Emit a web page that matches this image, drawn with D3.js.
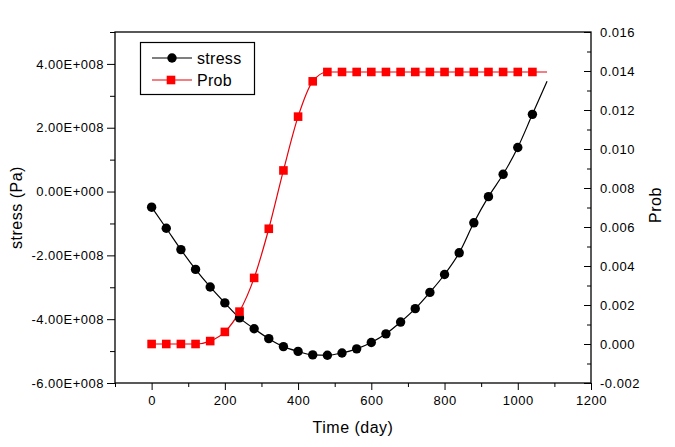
<!DOCTYPE html>
<html>
<head>
<meta charset="utf-8">
<script src="https://cdn.jsdelivr.net/npm/d3@7"></script>
<style>
  html, body { margin: 0; padding: 0; background: #fff; }
  svg { display: block; font-family: "Liberation Sans", Arial, sans-serif; }
  .tick text { letter-spacing: 0.5px; }
</style>
</head>
<body>
<svg id="chart" width="675" height="447"></svg>
<script>
// ---- Data ----
const days = [0, 40, 80, 120, 160, 200, 240, 280, 320, 360, 400, 440, 480, 520,
              560, 600, 640, 680, 720, 760, 800, 840, 880, 920, 960, 1000, 1040, 1080];
const stress = [-0.49e8, -1.15e8, -1.82e8, -2.44e8, -2.99e8, -3.49e8, -3.96e8, -4.30e8,
                -4.61e8, -4.86e8, -5.01e8, -5.12e8, -5.13e8, -5.06e8, -4.93e8, -4.73e8,
                -4.46e8, -4.09e8, -3.67e8, -3.16e8, -2.60e8, -1.92e8, -0.98e8, -0.16e8,
                0.54e8, 1.38e8, 2.42e8, 3.46e8];
const prob = [0, 0, 0, 0, 0.00015, 0.00062, 0.00166, 0.00339, 0.00591, 0.0089, 0.01166,
              0.01347, 0.01395, 0.01395, 0.01395, 0.01395, 0.01395, 0.01395, 0.01395,
              0.01395, 0.01395, 0.01395, 0.01395, 0.01395, 0.01395, 0.01395, 0.01395, 0.01395];
const markerLastDay = 1040; // markers drawn up to this day; curve continues to the last point
const xTicks = [0, 200, 400, 600, 800, 1000, 1200];
const xMinorTicks = [-100, 100, 300, 500, 700, 900, 1100];
const yLeftTicks = [-6e8, -4e8, -2e8, 0, 2e8, 4e8];
const yLeftMinor = [-5e8, -3e8, -1e8, 1e8, 3e8, 5e8];
const yRightTicks = [-0.002, 0, 0.002, 0.004, 0.006, 0.008, 0.010, 0.012, 0.014, 0.016];
const yRightMinor = [-0.001, 0.001, 0.003, 0.005, 0.007, 0.009, 0.011, 0.013, 0.015];
const seriesNames = ["stress", "Prob"];
const xTitle = "Time (day)";
const yLeftTitle = "stress (Pa)";
const yRightTitle = "Prob";

// ---- Layout ----
const L = 115, R = 591, T = 32, B = 383;
const svg = d3.select("#chart");

const x = d3.scaleLinear().domain([-100, 1200]).range([L, R]);
const yL = d3.scaleLinear().domain([-6e8, 5e8]).range([B, T]);
const yR = d3.scaleLinear().domain([-0.002, 0.016]).range([B, T]);

function sciFmt(d) {
  if (d === 0) return "0.00E+000";
  const sign = d < 0 ? "-" : "";
  const a = Math.abs(d);
  const e = Math.floor(Math.log10(a) + 1e-9);
  const m = a / Math.pow(10, e);
  return sign + m.toFixed(2) + "E" + (e >= 0 ? "+" : "-") + String(Math.abs(e)).padStart(3, "0");
}

function styleAxis(g) {
  g.selectAll("path.domain").remove();
  g.selectAll(".tick line").attr("stroke", "#000").attr("stroke-width", 1);
  g.selectAll(".tick text").attr("fill", "#000").attr("font-size", "13px");
}

// minor ticks
svg.append("g").attr("transform", `translate(0,${B})`)
  .call(d3.axisBottom(x).tickValues(xMinorTicks).tickSize(4).tickFormat(""))
  .call(styleAxis);
svg.append("g").attr("transform", `translate(${L},0)`)
  .call(d3.axisLeft(yL).tickValues(yLeftMinor).tickSize(5).tickFormat(""))
  .call(styleAxis);
svg.append("g").attr("transform", `translate(${R},0)`)
  .call(d3.axisLeft(yR).tickValues(yRightMinor).tickSize(4).tickFormat(""))
  .call(styleAxis);

// major ticks
svg.append("g").attr("transform", `translate(0,${B})`)
  .call(d3.axisBottom(x).tickValues(xTicks).tickSize(7).tickPadding(6).tickFormat(d3.format("d")))
  .call(styleAxis);
svg.append("g").attr("transform", `translate(${L},0)`)
  .call(d3.axisLeft(yL).tickValues(yLeftTicks).tickSize(8).tickPadding(3).tickFormat(sciFmt))
  .call(styleAxis);
const rAx = svg.append("g").attr("transform", `translate(${R},0)`)
  .call(d3.axisLeft(yR).tickValues(yRightTicks).tickSize(7).tickFormat(d => d.toFixed(3)))
  .call(styleAxis);
rAx.selectAll(".tick text").attr("x", 9).attr("text-anchor", "start");

// frame
svg.append("rect").attr("x", L).attr("y", T).attr("width", R - L).attr("height", B - T)
  .attr("fill", "none").attr("stroke", "#000").attr("stroke-width", 1.3);

// axis titles
svg.append("text").attr("x", (L + R) / 2).attr("y", 433).attr("text-anchor", "middle")
  .attr("font-size", "16px").attr("letter-spacing", "0.5px").text(xTitle);
svg.append("text").attr("transform", `translate(22,${(T + B) / 2}) rotate(-90)`)
  .attr("text-anchor", "middle").attr("font-size", "16px").attr("letter-spacing", "0.5px").text(yLeftTitle);
svg.append("text").attr("transform", `translate(661,205) rotate(-90)`)
  .attr("text-anchor", "middle").attr("font-size", "16px").attr("letter-spacing", "0.5px").text(yRightTitle);

// data
const pts = days.map((d, i) => ({ d, s: stress[i], p: prob[i] }));
const mk = pts.filter(o => o.d <= markerLastDay);

const plot = svg.append("g");
plot.append("path").datum(pts)
  .attr("d", d3.line().x(o => x(o.d)).y(o => yL(o.s)).curve(d3.curveMonotoneX))
  .attr("fill", "none").attr("stroke", "#000").attr("stroke-width", 1.2);
plot.append("path").datum(pts)
  .attr("d", d3.line().x(o => x(o.d)).y(o => yR(o.p)).curve(d3.curveMonotoneX))
  .attr("fill", "none").attr("stroke", "#e8000b").attr("stroke-width", 1.2);

plot.selectAll("circle.s").data(mk).join("circle").attr("class", "s")
  .attr("cx", o => x(o.d)).attr("cy", o => yL(o.s)).attr("r", 4.7).attr("fill", "#000");
plot.selectAll("rect.p").data(mk).join("rect").attr("class", "p")
  .attr("x", o => x(o.d) - 4.3).attr("y", o => yR(o.p) - 4.3)
  .attr("width", 8.6).attr("height", 8.6).attr("fill", "#ff0000");

// legend
const lg = svg.append("g");
lg.append("rect").attr("x", 140.5).attr("y", 42.5).attr("width", 114).attr("height", 52)
  .attr("fill", "#fff").attr("stroke", "#000").attr("stroke-width", 1.2);
const rows = [
  { y: 58, color: "#000", line: "#000", shape: "circle" },
  { y: 80, color: "#ff0000", line: "#e8000b", shape: "square" }
];
rows.forEach((r, i) => {
  lg.append("line").attr("x1", 152).attr("x2", 192).attr("y1", r.y).attr("y2", r.y)
    .attr("stroke", r.line).attr("stroke-width", 1.2);
  if (r.shape === "circle") {
    lg.append("circle").attr("cx", 172).attr("cy", r.y).attr("r", 4.7).attr("fill", r.color);
  } else {
    lg.append("rect").attr("x", 171 - 4.3).attr("y", r.y - 4.3).attr("width", 8.6).attr("height", 8.6).attr("fill", r.color);
  }
  lg.append("text").attr("x", 197).attr("y", r.y + 5.5).attr("font-size", "16px")
    .attr("letter-spacing", "0.3px").text(seriesNames[i]);
});
</script>
</body>
</html>
